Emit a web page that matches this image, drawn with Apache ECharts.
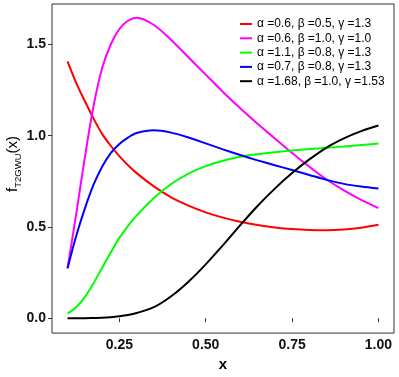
<!DOCTYPE html>
<html>
<head>
<meta charset="utf-8">
<script src="https://cdn.jsdelivr.net/npm/echarts@6/dist/echarts.min.js"></script>
<style>html,body{margin:0;padding:0;background:#fff;}#c{width:399px;height:377px;}</style>
</head>
<body>
<div id="c"></div>
<script>
var xs = [0.1,0.125,0.15,0.175,0.2,0.225,0.25,0.275,0.3,0.35,0.4,0.45,0.5,0.55,0.6,0.65,0.7,0.75,0.8,0.85,0.9,0.95,1.0];
var redVals = [1.408,1.29,1.19,1.095,1.01,0.945,0.888,0.838,0.795,0.722,0.662,0.617,0.58,0.551,0.528,0.51,0.497,0.488,0.483,0.482,0.486,0.496,0.512];
var magentaVals = [0.273,0.57,0.88,1.16,1.37,1.50,1.585,1.63,1.647,1.607,1.525,1.43,1.335,1.24,1.15,1.065,0.985,0.905,0.83,0.76,0.70,0.648,0.603];
var greenVals = [0.026,0.06,0.115,0.19,0.275,0.36,0.44,0.505,0.562,0.658,0.735,0.792,0.833,0.863,0.885,0.899,0.91,0.919,0.927,0.934,0.941,0.949,0.957];
var blueVals = [0.273,0.45,0.60,0.73,0.83,0.905,0.955,0.99,1.015,1.03,1.017,0.99,0.958,0.925,0.894,0.865,0.838,0.812,0.785,0.758,0.736,0.721,0.71];
var blackVals = [0,0,0,0.001,0.002,0.005,0.01,0.017,0.028,0.06,0.12,0.2,0.295,0.40,0.51,0.615,0.71,0.795,0.87,0.935,0.985,1.025,1.056];
var seriesNames = ['\u03b1 =0.6, \u03b2 =0.5, \u03b3 =1.3','\u03b1 =0.6, \u03b2 =1.0, \u03b3 =1.0','\u03b1 =1.1, \u03b2 =0.8, \u03b3 =1.3','\u03b1 =0.7, \u03b2 =0.8, \u03b3 =1.3','\u03b1 =1.68, \u03b2 =1.0, \u03b3 =1.53'];
var seriesColors = ['#FF0000','#FF00FF','#00FF00','#0000FF','#000000'];
var xTicks = [0.25,0.5,0.75,1.0];
var yTicks = [0,0.5,1.0,1.5];

var allVals = [redVals, magentaVals, greenVals, blueVals, blackVals];
var FONT = 'Liberation Sans, Arial, Helvetica, sans-serif';
var series = allVals.map(function(vals, i){
  return {
    name: seriesNames[i], type: 'line', smooth: 0.3, showSymbol: false, symbol: 'none',
    lineStyle: {color: seriesColors[i], width: 2}, itemStyle: {color: seriesColors[i]},
    data: xs.map(function(x, j){ return [x, vals[j]]; })
  };
});
var chart = echarts.init(document.getElementById('c'), null, {renderer: 'canvas'});
chart.setOption({
  animation: false,
  backgroundColor: '#fff',
  grid: {left: 52, top: 4, right: 5, bottom: 40, show: true, borderColor: '#333', borderWidth: 1},
  legend: {
    orient: 'vertical', left: 240, top: 17, padding: 0, icon: 'rect', itemWidth: 12, itemHeight: 2,
    itemGap: 0.3, data: seriesNames,
    textStyle: {fontFamily: FONT, fontSize: 12, lineHeight: 14, color: '#000'}
  },
  xAxis: {
    type: 'value', min: 0.055, max: 1.045,
    name: 'x', nameLocation: 'middle', nameGap: 22,
    nameTextStyle: {fontFamily: FONT, fontSize: 15, fontWeight: 'bold', color: '#000'},
    axisLine: {show: false}, splitLine: {show: false},
    axisTick: {show: true, length: 4, lineStyle: {color: '#333'}, customValues: xTicks},
    axisLabel: {show: true, margin: 5, fontFamily: FONT, fontSize: 14, fontWeight: 'bold', color: '#111',
      customValues: xTicks, formatter: function(v){ return v.toFixed(2); }}
  },
  yAxis: {
    type: 'value', min: -0.082, max: 1.722,
    axisLine: {show: false}, splitLine: {show: false},
    axisTick: {show: true, length: 4, lineStyle: {color: '#333'}, customValues: yTicks},
    axisLabel: {show: true, margin: 6, fontFamily: FONT, fontSize: 14, fontWeight: 'bold', color: '#111',
      customValues: yTicks, formatter: function(v){ return v.toFixed(1); }}
  },
  graphic: [{
    type: 'text', x: 13, y: 164, rotation: Math.PI / 2,
    style: {
      x: 0, y: 0, align: 'center', verticalAlign: 'middle',
      text: '{a|f}{b|T2GWU}{a|(x)}',
      rich: {
        a: {fontFamily: FONT, fontSize: 15, color: '#111', verticalAlign: 'bottom'},
        b: {fontFamily: FONT, fontSize: 9.5, color: '#111', verticalAlign: 'bottom', padding: [0,0,-3,0]}
      }
    }
  }],
  series: series
});
</script>
</body>
</html>
